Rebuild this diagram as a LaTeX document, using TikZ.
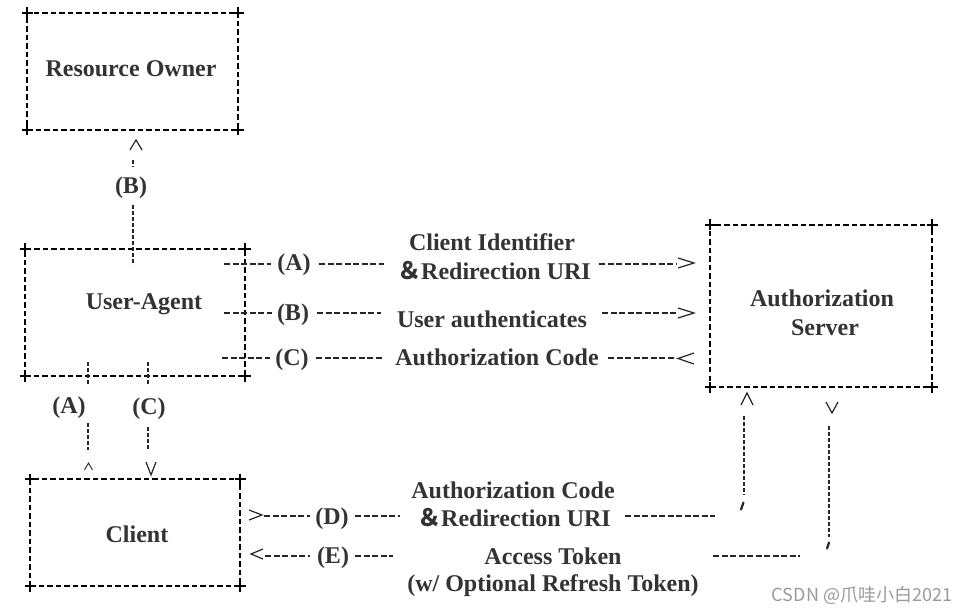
\documentclass[tikz,border=0pt]{standalone}
\usepackage{fontspec}
\setmainfont{Liberation Serif}
\newfontfamily\cjkfont{Noto Sans CJK SC}
\definecolor{txt}{HTML}{333333}
\definecolor{wm}{HTML}{9A9A9A}
\begin{document}
\begin{tikzpicture}[x=1pt,y=-1pt,
  lbl/.style={font=\fontsize{24}{28}\selectfont\bfseries, text=txt, inner sep=0pt, anchor=base},
  boxst/.style={draw=black, line width=2pt, dash pattern=on 5.5pt off 3pt, minimum width=#1, inner sep=0pt, outer sep=0pt},
  conn/.style={draw=black!85, line width=1.7pt, dash pattern=on 6pt off 2.5pt},
  vconn/.style={draw=black!85, line width=1.7pt, dash pattern=on 4pt off 2pt},
  chev/.style={draw=black!85, line width=1.2pt},
  tick/.style={draw=black!85, line width=2.2pt, line cap=round},
  plusmark/.pic={\draw[line width=2.5pt, black] (-5.5,0) -- (5.5,0) (0,-5.5) -- (0,5.5);}
]
\useasboundingbox[fill=white] (0,0) rectangle (972,612);

% boxes
\node[boxst=211pt, minimum height=117pt] (ro) at (132.5,71.5) {};
\node[boxst=220pt, minimum height=127pt] (ua) at (135,312.5) {};
\node[boxst=210pt, minimum height=107pt] (cl) at (135,532.5) {};
\node[boxst=222pt, minimum height=162pt] (authsrv) at (821,306) {};
\foreach \b in {ro,ua,cl,authsrv}
  \foreach \c in {north west,north east,south west,south east}
    \pic at (\b.\c) {plusmark};

% box texts
\node[lbl] (tro) at (131,77) {Resource Owner};
\node[lbl] (tua) at (144,310) {User-Agent};
\node[lbl] (tcl) at (137,542) {Client};
\node[lbl] (tas1) at (822,307) {Authorization};
\node[lbl] (tas2) at (825,336) {Server};

% labels
\node[lbl] (lB0) at (131,194) {(B)};
\node[lbl] (lA0) at (69,413) {(A)};
\node[lbl] (lC0) at (149,414) {(C)};
\node[lbl] (lA) at (294,271) {(A)};
\node[lbl] (tA1) at (492,251) {Client Identifier};
\node[lbl] (tA2) at (494,280) {{\cjkfont ＆}Redirection URI};
\node[lbl] (lB) at (293,321) {(B)};
\node[lbl] (tB) at (492,327) {User authenticates};
\node[lbl] (lC) at (292,366) {(C)};
\node[lbl] (tC) at (497,365) {Authorization Code};
\node[lbl] (tD1) at (513,498) {Authorization Code};
\node[lbl] (tD2) at (514,526) {{\cjkfont ＆}Redirection URI};
\node[lbl] (lD) at (332,524) {(D)};
\node[lbl] (lE) at (333,563) {(E)};
\node[lbl] (tE1) at (553,564) {Access Token};
\node[lbl] (tE2) at (553,591) {(w/ Optional Refresh Token)};
\node[font=\cjkfont\fontsize{18}{20}\selectfont, text=wm, anchor=base, inner sep=0pt] (wmk) at (862,601) {CSDN @爪哇小白2021};

% coordinates for connector pieces
\coordinate (a1) at (224,264); \coordinate (a2) at (271,264);
\coordinate (a3) at (319,264); \coordinate (a4) at (384,264);
\coordinate (a5) at (599,264); \coordinate (a6) at (676,264);
\coordinate (b1) at (224,313); \coordinate (b2) at (272,313);
\coordinate (b3) at (317,313); \coordinate (b4) at (381,313);
\coordinate (b5) at (602,313); \coordinate (b6) at (677,313);
\coordinate (c1) at (222,358); \coordinate (c2) at (270,358);
\coordinate (c3) at (316,358); \coordinate (c4) at (383,358);
\coordinate (c5) at (608,358); \coordinate (c6) at (675,358);
\coordinate (d1) at (264,516); \coordinate (d2) at (310,516);
\coordinate (d3) at (355,516); \coordinate (d4) at (400,516);
\coordinate (d5) at (625,516); \coordinate (d6) at (715,516);
\coordinate (e1) at (265,556); \coordinate (e2) at (310,556);
\coordinate (e3) at (355,556); \coordinate (e4) at (393,556);
\coordinate (e5) at (713,556); \coordinate (e6) at (800,556);

\draw[conn] (a1) -- (a2) (a3) -- (a4) (a5) -- (a6);
\draw[conn] (b1) -- (b2) (b3) -- (b4) (b5) -- (b6);
\draw[conn] (c1) -- (c2) (c3) -- (c4) (c5) -- (c6);
\draw[conn] (d1) -- (d2) (d3) -- (d4) (d5) -- (d6);
\draw[conn] (e1) -- (e2) (e3) -- (e4) (e5) -- (e6);

% chevrons on horizontal rows
\draw[chev] (678,258) -- (694,263) -- (678,268);
\draw[chev] (678,308) -- (694,313) -- (678,318);
\draw[chev] (694,353) -- (678,358.5) -- (694,364);
\draw[chev] (249,510) -- (262,515) -- (249,520);
\draw[chev] (263,549) -- (251,554) -- (263,559);

% vertical: resource owner <-> user-agent
\coordinate (vB0) at (133,160); \coordinate (vB1) at (133,167);
\coordinate (vB2) at (133,205); \coordinate (vB3) at (133,265);
\draw[vconn] (vB0) -- (vB1) (vB2) -- (vB3);
\draw[chev] (130,150) -- (136,140) -- (142,150);

% vertical: user-agent <-> client
\coordinate (vA0) at (88,362); \coordinate (vA1) at (88,385);
\coordinate (vA2) at (88,423); \coordinate (vA3) at (88,450);
\coordinate (vC0) at (148,362); \coordinate (vC1) at (148,385);
\coordinate (vC2) at (148,427); \coordinate (vC3) at (148,449);
\draw[vconn] (vA0) -- (vA1) (vA2) -- (vA3);
\draw[vconn] (vC0) -- (vC1) (vC2) -- (vC3);
\draw[chev, line width=0.9pt] (84.5,470) -- (88.5,463) -- (92.5,470);
\draw[chev] (146,462) -- (151,475) -- (156,462);

% vertical: client <-> authorization server
\coordinate (vD0) at (744,416); \coordinate (vD1) at (744,495);
\coordinate (vE0) at (829,426); \coordinate (vE1) at (829,537);
\draw[vconn] (vD0) -- (vD1);
\draw[vconn] (vE0) -- (vE1);
\draw[chev] (741,405) -- (747,393) -- (753,405);
\draw[chev] (826,402) -- (832,413) -- (838,402);
\draw[tick] (743.5,502.5) -- (741,509.5);
\draw[tick] (829,542.5) -- (827,548.5);
\end{tikzpicture}
\end{document}
